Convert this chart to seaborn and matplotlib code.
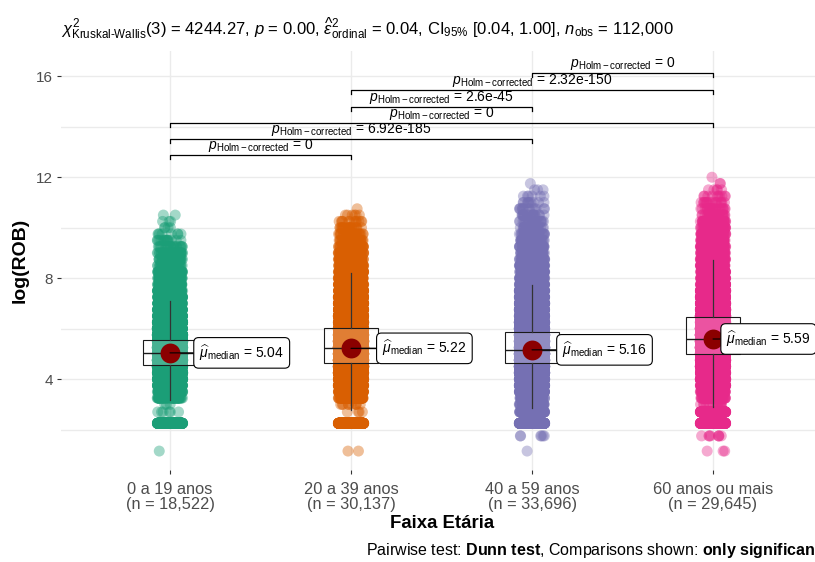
import numpy as np
import pandas as pd
import matplotlib
matplotlib.use("Agg")
import matplotlib.pyplot as plt
from matplotlib import font_manager
import seaborn as sns

# ---------------- data ----------------
groups = ["0 a 19 anos", "20 a 39 anos", "40 a 59 anos", "60 anos ou mais"]
palette = ["#1B9E77", "#D95F02", "#7570B3", "#E7298A"]

# observed log(ROB) levels shared by all age groups
rob_levels = [1.15, 1.75, 2.25, 2.7,
              3.0, 3.25, 3.5, 3.75, 4.0, 4.25, 4.5, 4.75, 5.0, 5.25, 5.5, 5.75,
              6.0, 6.25, 6.5, 6.75, 7.0, 7.25, 7.5, 7.75, 8.0, 8.25, 8.5, 8.75,
              9.0, 9.25, 9.5, 9.75, 10.0, 10.25, 10.5, 10.75, 11.0, 11.25, 11.5,
              11.75, 12.0]

# number of records at each level, per age group
counts_0a19 = [1, 0, 600, 6,
               3, 60, 150, 350, 700, 1200, 1700, 2100, 2521, 2100, 1800, 1400,
               1000, 750, 550, 400, 300, 220, 160, 120, 90, 70, 50, 40,
               30, 20, 14, 8, 4, 3, 2, 0, 0, 0, 0, 0, 0]
counts_20a39 = [2, 0, 900, 4,
                10, 100, 250, 550, 1000, 1700, 2400, 2900, 3392, 3100, 2800, 2400,
                2000, 1600, 1250, 950, 720, 540, 400, 300, 230, 170, 130, 100,
                75, 55, 40, 30, 20, 12, 6, 1, 0, 0, 0, 0, 0]
counts_40a59 = [1, 6, 700, 120,
                60, 130, 300, 650, 1150, 1900, 2700, 3800, 4267, 3450, 3050, 2600,
                2100, 1650, 1250, 950, 700, 520, 390, 290, 220, 170, 130, 100,
                80, 62, 50, 40, 32, 25, 19, 14, 10, 6, 3, 1, 0]
counts_60mais = [3, 8, 500, 400,
                 15, 60, 150, 330, 600, 950, 1400, 1900, 2350, 3150, 3302, 2650,
                 2400, 2050, 1700, 1350, 1050, 800, 600, 450, 340, 260, 200, 155,
                 120, 95, 75, 60, 48, 38, 30, 22, 16, 10, 5, 2, 1]
group_counts = [counts_0a19, counts_20a39, counts_40a59, counts_60mais]

# box summaries (log scale)
medians = [5.04, 5.22, 5.16, 5.59]
q1 = [4.55, 4.63, 4.63, 4.99]
q3 = [5.54, 6.02, 5.86, 6.46]
whisker_lo = [3.17, 2.77, 2.85, 2.89]
whisker_hi = [7.10, 8.20, 7.72, 8.71]

# Dunn pairwise comparisons (Holm corrected)
pairs = [(0, 1), (0, 2), (0, 3), (1, 2), (1, 3), (2, 3)]
pair_p = ["0", "6.92e-185", "0", "2.6e-45", "2.32e-150", "0"]
bracket_y = [12.87, 13.50, 14.14, 14.77, 15.45, 16.12]

# omnibus test
kw_stat, kw_df, kw_p = 4244.27, 3, 0.00
eps2, ci_lo, ci_hi = 0.04, 0.04, 1.00

# ---------------- fonts ----------------
available = {f.name for f in font_manager.fontManager.ttflist}
base = "Liberation Sans Narrow" if "Liberation Sans Narrow" in available else "Liberation Sans"
plt.rcParams["font.family"] = [base, "DejaVu Sans"]
plt.rcParams["mathtext.fontset"] = "custom"
plt.rcParams["mathtext.rm"] = base
plt.rcParams["mathtext.sf"] = base
plt.rcParams["mathtext.it"] = base + ":italic"
plt.rcParams["mathtext.bf"] = base + ":bold"

# ---------------- long table ----------------
frames = []
for g, c in zip(groups, group_counts):
    frames.append(pd.DataFrame({"faixa": g, "lrob": np.repeat(rob_levels, c)}))
df = pd.concat(frames, ignore_index=True)
df["faixa"] = pd.Categorical(df["faixa"], categories=groups, ordered=True)
n_obs = [int(sum(c)) for c in group_counts]

# ---------------- figure ----------------
fig = plt.figure(figsize=(8.15, 5.62), dpi=100)
fig.patch.set_facecolor("white")
W, H = 815, 562
left, right, bottom, top = 61.4, 821.6, 470, 51
ax = fig.add_axes([left / W, 1 - bottom / H, (right - left) / W, (bottom - top) / H])

np.random.seed(7)
sns.stripplot(data=df, x="faixa", y="lrob", hue="faixa", order=groups,
              hue_order=groups, palette=palette, jitter=0.07, size=7.9,
              alpha=0.4, linewidth=0, legend=False, ax=ax, zorder=2)

# boxes
stats = []
for i in range(len(groups)):
    stats.append(dict(med=medians[i], q1=q1[i], q3=q3[i],
                      whislo=whisker_lo[i], whishi=whisker_hi[i], fliers=[]))
ax.bxp(stats, positions=range(len(groups)), widths=0.3, patch_artist=True,
       showcaps=False, showfliers=False,
       boxprops=dict(facecolor=(1, 1, 1, 0.2), edgecolor="#1a1a1a", linewidth=0.8),
       whiskerprops=dict(color="#333333", linewidth=0.9),
       medianprops=dict(color="#1a1a1a", linewidth=1.0),
       manage_ticks=False, zorder=3)

# centrality points and labels
ax.scatter(range(len(groups)), medians, s=205, color="#8B0000", zorder=5, linewidths=0)
label_dx = [0.162, 0.172, 0.167, 0.074]
for i, m in enumerate(medians):
    ax.annotate(r"$\widehat{\mu}_{\mathrm{median}}$" + f" = {m:.2f}",
                xy=(i, m), xytext=(i + label_dx[i], m), ha="left", va="center",
                fontsize=10, zorder=6,
                bbox=dict(boxstyle="round,pad=0.4,rounding_size=0.35",
                          fc="white", ec="black", lw=0.8),
                arrowprops=dict(arrowstyle="-", color="black", lw=0.8,
                                shrinkA=0, shrinkB=0))

# significance brackets
tick = 0.15
for (a, b), p, y in zip(pairs, pair_p, bracket_y):
    ax.plot([a, a, b, b], [y - tick, y, y, y - tick], color="black", lw=0.9, zorder=4)
    ax.text((a + b) / 2, y + 0.05, r"$\mathit{p}_{\mathrm{Holm-corrected}}$" + f" = {p}",
            ha="center", va="bottom", fontsize=10, zorder=6)

# axes styling
ax.set_xlim(-0.6, 3.6)
ax.set_ylim(0.4, 17.0)
ax.set_yticks([4, 8, 12, 16])
ax.set_yticks([2, 6, 10, 14], minor=True)
ax.set_xticks(range(len(groups)))
ax.set_xticklabels([f"{g}\n(n = {n:,})" for g, n in zip(groups, n_obs)],
                   linespacing=0.95)
ax.set_xlabel("")
ax.set_ylabel("")
for s in ax.spines.values():
    s.set_visible(False)
ax.set_axisbelow(True)
ax.grid(True, which="major", axis="both", color="#EBEBEB", lw=1.0)
ax.grid(True, which="minor", axis="y", color="#EBEBEB", lw=1.0)
ax.tick_params(axis="both", which="major", length=3, width=0.8, color="#333333",
               labelcolor="#4D4D4D")
ax.tick_params(axis="x", pad=6, labelsize=11.8)
ax.tick_params(axis="y", pad=3, labelsize=11)
ax.tick_params(which="minor", length=0)
ax.set_facecolor("white")

# titles
title = (r"$\chi^2_{\mathrm{Kruskal\text{-}Wallis}}$" + f"({kw_df}) = {kw_stat:.2f}, "
         + r"$\mathit{p}$" + f" = {kw_p:.2f}, "
         + r"$\widehat{\epsilon}^2_{\mathrm{ordinal}}$" + f" = {eps2:.2f}, "
         + r"CI$_{95\%}$" + f" [{ci_lo:.2f}, {ci_hi:.2f}], "
         + r"$\mathit{n}_{\mathrm{obs}}$" + f" = {sum(n_obs):,}")
fig.text(left / W, 1 - 28 / H, title, ha="left", va="center", fontsize=12)
fig.text(20 / W, 1 - 260 / H, "log(ROB)", rotation=90, ha="center", va="center",
         fontsize=14, fontweight="bold")
fig.text(442 / W, 1 - 523 / H, "Faixa Etária", ha="center", va="center",
         fontsize=13.4, fontweight="bold")
fig.text(right / W, 1 - 551 / H,
         r"Pairwise test: $\mathbf{Dunn\ test}$, Comparisons shown: $\mathbf{only\ significant}$",
         ha="right", va="center", fontsize=11.5)

fig.savefig("out.png", dpi=100, facecolor="white")
